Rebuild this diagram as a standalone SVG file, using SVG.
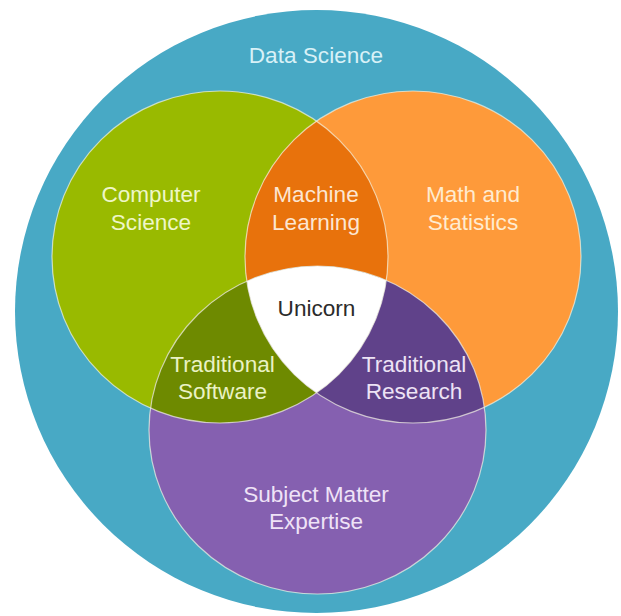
<svg xmlns="http://www.w3.org/2000/svg" width="621" height="616" viewBox="0 0 621 616">
  <style>
    text { font-family: "Liberation Sans", Arial, sans-serif; font-size: 22.6px; text-anchor: middle; }
    .outline { fill: none; stroke: #f4f4e4; stroke-width: 1.2; stroke-opacity: 0.7; }
  </style>
  <defs>
    <ellipse id="cGreen" cx="220" cy="257" rx="168" ry="166"/>
    <ellipse id="cOrange" cx="413" cy="257" rx="168" ry="166"/>
    <ellipse id="cPurple" cx="317.5" cy="430" rx="168.5" ry="164"/>
    <clipPath id="clipGreen"><use href="#cGreen"/></clipPath>
    <clipPath id="clipOrange"><use href="#cOrange"/></clipPath>
    <clipPath id="clipPurple"><use href="#cPurple"/></clipPath>
  </defs>
  <rect width="621" height="616" fill="#ffffff"/>

  <g id="data-science">
    <circle cx="316.5" cy="311.5" r="301.5" fill="#48a9c5"/>
    <text x="316" y="63" fill="#d8f1f7">Data Science</text>
  </g>

  <g id="computer-science">
    <use href="#cGreen" fill="#99ba00"/>
  </g>
  <g id="math-statistics">
    <use href="#cOrange" fill="#fe9a3a"/>
  </g>
  <g id="subject-matter">
    <use href="#cPurple" fill="#8560b0"/>
  </g>

  <g id="machine-learning">
    <g clip-path="url(#clipGreen)"><use href="#cOrange" fill="#e8720c"/></g>
  </g>
  <g id="traditional-software">
    <g clip-path="url(#clipGreen)"><use href="#cPurple" fill="#6e8a00"/></g>
  </g>
  <g id="traditional-research">
    <g clip-path="url(#clipOrange)"><use href="#cPurple" fill="#60428a"/></g>
  </g>
  <g id="unicorn">
    <g clip-path="url(#clipGreen)"><g clip-path="url(#clipOrange)"><use href="#cPurple" fill="#ffffff"/></g></g>
  </g>

  <g id="outlines">
    <use href="#cGreen" class="outline"/>
    <use href="#cOrange" class="outline"/>
    <use href="#cPurple" class="outline"/>
  </g>

  <g id="labels">
    <text x="151" y="202" fill="#eef6c8">Computer</text>
    <text x="151" y="230" fill="#eef6c8">Science</text>
    <text x="316" y="202" fill="#fce6d2">Machine</text>
    <text x="316" y="230" fill="#fce6d2">Learning</text>
    <text x="473" y="202" fill="#ffebd0">Math and</text>
    <text x="473" y="230" fill="#ffebd0">Statistics</text>
    <text x="316.5" y="316" fill="#2b2b2b">Unicorn</text>
    <text x="222.5" y="372" fill="#eaf2c5">Traditional</text>
    <text x="222.5" y="399" fill="#eaf2c5">Software</text>
    <text x="414" y="372" fill="#ede3f5">Traditional</text>
    <text x="414" y="399" fill="#ede3f5">Research</text>
    <text x="316" y="502" fill="#efe3f7">Subject Matter</text>
    <text x="316" y="529" fill="#efe3f7">Expertise</text>
  </g>

  <g id="connectors"></g>
</svg>
